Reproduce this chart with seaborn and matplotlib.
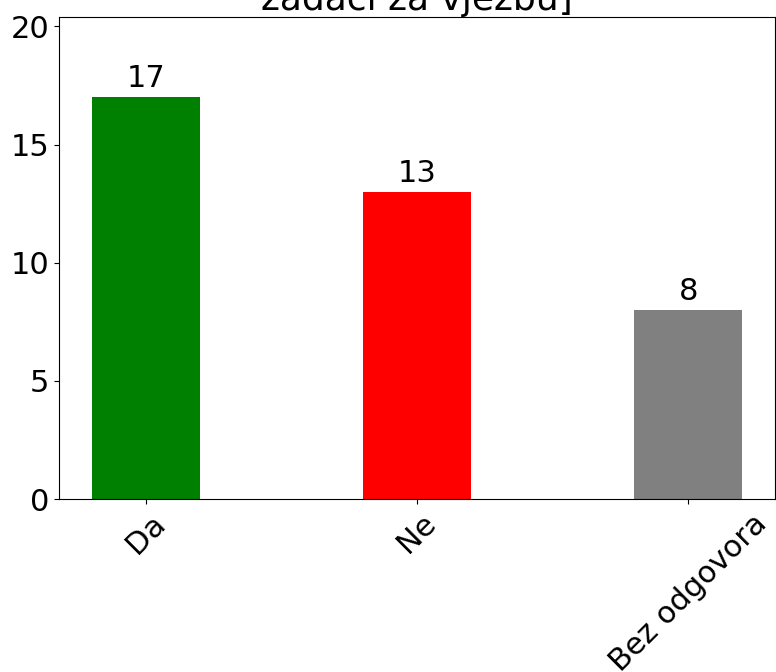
import matplotlib
matplotlib.use("Agg")
import matplotlib.pyplot as plt
import seaborn as sns
import pandas as pd

# -----------------------------
# Data
# -----------------------------
categories = ["Da", "Ne", "Bez odgovora"]
counts = [17, 13, 8]
bar_colors = ["green", "red", "gray"]
title_text = "zadaci za vjezbu]"

df = pd.DataFrame({"odgovor": categories, "broj": counts})

# -----------------------------
# Plot
# -----------------------------
fig = plt.figure(figsize=(7.76, 6.72), dpi=100)
ax = fig.add_axes([0.076, 0.2574, 0.9227, 0.7173])

sns.barplot(data=df, x="odgovor", y="broj", hue="odgovor",
            palette=bar_colors, width=0.4, saturation=1, legend=False, ax=ax)

for cont in ax.containers:
    ax.bar_label(cont, fontsize=22, padding=3)

ax.set_xlim(-0.32, 2.32)
ax.set_ylim(0, max(counts) * 1.2)
ax.set_yticks([0, 5, 10, 15, 20])
ax.set_xlabel("")
ax.set_ylabel("")
ax.tick_params(axis="both", labelsize=22)
plt.setp(ax.get_xticklabels(), rotation=45, ha="center")
ax.set_title(title_text, fontsize=26, pad=0)

fig.savefig("out.png", dpi=100)
